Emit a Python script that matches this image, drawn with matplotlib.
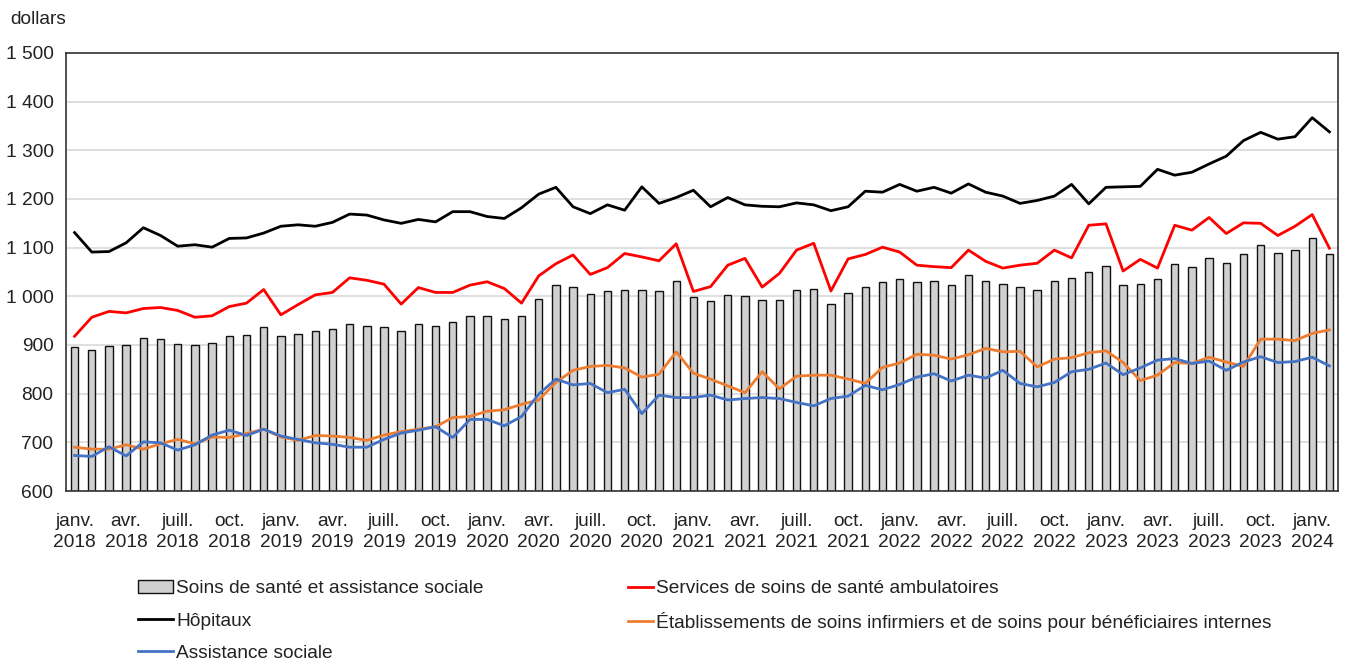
import numpy as np
import matplotlib
matplotlib.use("Agg")
import matplotlib.pyplot as plt
from matplotlib.patches import Patch
from matplotlib.lines import Line2D
from matplotlib.ticker import FuncFormatter

# monthly series, janv. 2018 to févr. 2024 (dollars)
soins_sante = [
    895, 889, 897, 900, 914, 913, 903, 900, 905, 919, 921, 936,
    919, 923, 928, 932, 943, 940, 938, 929, 944, 940, 947, 959,
    960, 954, 960, 995, 1024, 1020, 1004, 1011, 1014, 1014, 1010, 1032,
    999, 990, 1003, 1001, 993, 993, 1014, 1016, 985, 1007, 1020, 1030,
    1035, 1030, 1032, 1023, 1043, 1032, 1026, 1020, 1014, 1031, 1038, 1049,
    1062, 1024, 1025, 1036, 1066, 1061, 1078, 1068, 1086, 1105, 1090, 1096,
    1120, 1088,
]
hopitaux = [
    1131, 1091, 1092, 1110, 1141, 1125, 1103, 1106, 1101, 1119, 1120, 1130,
    1144, 1147, 1144, 1152, 1169, 1167, 1157, 1150, 1158, 1153, 1174, 1174,
    1164, 1160, 1182, 1210, 1224, 1184, 1170, 1188, 1177, 1225, 1191, 1203,
    1218, 1184, 1203, 1188, 1185, 1184, 1192, 1188, 1176, 1184, 1216, 1214,
    1230, 1216, 1224, 1212, 1231, 1214, 1206, 1191, 1197, 1206, 1230, 1190,
    1224, 1225, 1226, 1261, 1249, 1255, 1272, 1288, 1320, 1337, 1323, 1328,
    1367, 1338,
]
ambulatoires = [
    918, 957, 969, 966, 975, 977, 971, 957, 960, 979, 986, 1014,
    962, 983, 1003, 1008, 1038, 1033, 1025, 984, 1018, 1008, 1008, 1023,
    1030, 1016, 986, 1042, 1067, 1085, 1045, 1059, 1088, 1081, 1073, 1108,
    1010, 1020, 1064, 1078, 1019, 1047, 1095, 1109, 1011, 1077, 1086, 1101,
    1091, 1064, 1061, 1059, 1095, 1072, 1058, 1064, 1068, 1095, 1079, 1146,
    1149, 1052, 1076, 1058, 1146, 1136, 1162, 1129, 1151, 1150, 1125, 1144,
    1168, 1099,
]
etablissements = [
    690, 686, 686, 695, 686, 697, 706, 697, 711, 710, 718, 727,
    711, 704, 714, 713, 710, 704, 715, 722, 727, 732, 751, 753,
    764, 767, 778, 787, 823, 848, 856, 858, 853, 834, 840, 886,
    842, 830, 816, 802, 845, 810, 836, 838, 838, 830, 821, 854,
    863, 881, 879, 871, 880, 893, 886, 887, 855, 871, 874, 884,
    888, 864, 827, 838, 864, 862, 875, 865, 856, 912, 912, 909,
    924, 931,
]
assistance = [
    673, 671, 691, 672, 701, 699, 684, 695, 715, 725, 714, 727,
    713, 706, 699, 696, 690, 690, 706, 719, 725, 732, 710, 747,
    747, 734, 753, 799, 830, 818, 821, 802, 809, 759, 797, 792,
    792, 797, 787, 790, 792, 790, 782, 775, 790, 795, 817, 808,
    819, 834, 841, 826, 838, 832, 848, 821, 814, 823, 845, 850,
    863, 839, 853, 869, 872, 862, 867, 848, 865, 876, 864, 866,
    875, 857,
]
mois = ["janv.", "avr.", "juill.", "oct."]
annees = list(range(2018, 2025))

FONT = ["Liberation Sans Narrow", "Liberation Sans", "DejaVu Sans"]
TEXT = "#222222"
FS = 13.8
plt.rcParams["font.family"] = FONT

fig = plt.figure(figsize=(13.46, 6.60), dpi=100)
ax = fig.add_axes([66 / 1346, 1 - 491 / 660, (1338 - 66) / 1346, (491 - 53) / 660])

x = np.arange(len(soins_sante))
ax.bar(x, np.array(soins_sante) - 600, bottom=600, width=0.43, color="#d0d0d0",
       edgecolor="#111111", linewidth=1.0, zorder=2)
series = [
    (hopitaux, "#000000"),
    (ambulatoires, "#ff0000"),
    (etablissements, "#ed7d31"),
    (assistance, "#4472c4"),
]
for values, color in series:
    ax.plot(x, values, color=color, linewidth=2.0, zorder=3)

ax.set_xlim(-0.5, len(x) - 0.5)
ax.set_ylim(600, 1500)
ax.set_yticks(np.arange(600, 1501, 100))
ax.yaxis.set_major_formatter(FuncFormatter(lambda v, p: f"{int(v):,}".replace(",", " ")))
ax.grid(axis="y", color="#d9d9d9", linewidth=1.2, zorder=0)
ax.set_axisbelow(True)

ticks = np.arange(0, len(x), 3)
labels = [f"{mois[(t // 3) % 4]}\n{annees[t // 12]}" for t in ticks]
ax.set_xticks(ticks)
ax.set_xticklabels(labels, linespacing=1.3)
ax.tick_params(axis="x", length=0, pad=16, labelsize=FS, colors=TEXT)
ax.tick_params(axis="y", length=0, pad=9, labelsize=FS, colors=TEXT)

for side in ["left", "bottom", "top", "right"]:
    ax.spines[side].set_color("#333333")
    ax.spines[side].set_linewidth(1.2)

fig.text(10 / 1346, 1 - 20 / 660, "dollars", fontsize=FS, color=TEXT, va="center", ha="left")

left_items = [
    (Patch(facecolor="#d0d0d0", edgecolor="#111111", linewidth=1.0),
     "Soins de santé et assistance sociale"),
    (Line2D([], [], color="#000000", linewidth=2.0), "Hôpitaux"),
    (Line2D([], [], color="#4472c4", linewidth=2.0), "Assistance sociale"),
]
right_items = [
    (Line2D([], [], color="#ff0000", linewidth=2.0), "Services de soins de santé ambulatoires"),
    (Line2D([], [], color="#ed7d31", linewidth=2.0),
     "Établissements de soins infirmiers et de soins pour bénéficiaires internes"),
]
leg_kw = dict(frameon=False, fontsize=FS, labelcolor=TEXT, handletextpad=0.15,
              labelspacing=0.77, borderaxespad=0, borderpad=0, handleheight=0.7)
leg1 = fig.legend([h for h, _ in left_items], [t for _, t in left_items],
                  loc="upper left", bbox_to_anchor=(138 / 1346, 1 - 580 / 660),
                  handlelength=1.85, **leg_kw)
leg2 = fig.legend([h for h, _ in right_items], [t for _, t in right_items],
                  loc="upper left", bbox_to_anchor=(628 / 1346, 1 - 580 / 660),
                  handlelength=1.3, **leg_kw)

fig.savefig("out.png", dpi=100)
